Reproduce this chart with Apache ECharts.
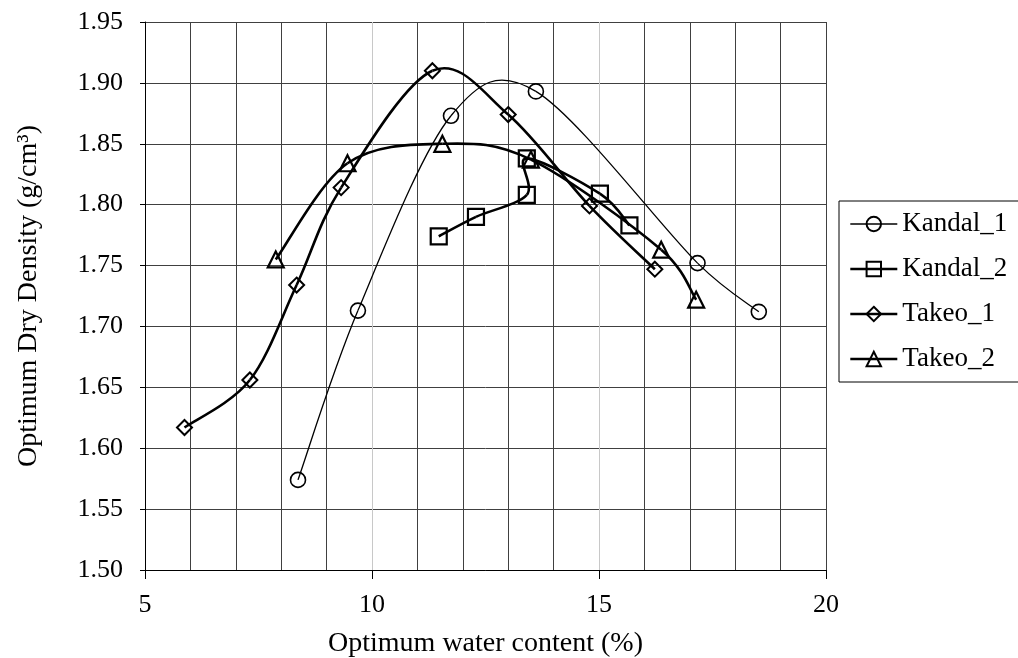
<!DOCTYPE html>
<html>
<head>
<meta charset="utf-8">
<script src="https://cdn.jsdelivr.net/npm/echarts@6/dist/echarts.min.js"></script>
<style>
  html, body { margin: 0; padding: 0; background: #fff; }
  #chart { width: 1018px; height: 658px; }
</style>
</head>
<body>
<div id="chart"></div>
<script>
// Compaction test results: optimum water content (%) vs dry density (g/cm3)
const kandal1X = [8.37, 9.69, 11.74, 13.61, 17.17, 18.52];
const kandal1Y = [1.574, 1.713, 1.873, 1.893, 1.752, 1.712];

const kandal2X = [11.47, 12.29, 13.41, 13.41, 15.02, 15.67];
const kandal2Y = [1.774, 1.790, 1.808, 1.838, 1.809, 1.783];

const takeo1X = [5.87, 7.31, 8.34, 9.32, 11.33, 13.00, 14.79, 16.23];
const takeo1Y = [1.617, 1.656, 1.734, 1.814, 1.910, 1.874, 1.799, 1.747];

const takeo2X = [7.88, 9.46, 11.55, 13.50, 16.37, 17.14];
const takeo2Y = [1.755, 1.834, 1.850, 1.837, 1.763, 1.722];

const xTickValues = [5, 10, 15, 20];
const yTickValues = [1.50, 1.55, 1.60, 1.65, 1.70, 1.75, 1.80, 1.85, 1.90, 1.95];

const FONT = 'Liberation Serif';
const THIN = 1.3;
const THICK = 2.6;

function pairs(xs, ys) {
  return xs.map((x, i) => [x, ys[i]]);
}

// Markers (and legend entry) for one data set; the connecting curve is drawn separately.
function markerSeries(name, xs, ys, symbol, size, lineWidth, borderWidth) {
  return {
    name: name,
    type: 'line',
    data: pairs(xs, ys),
    symbol: symbol,
    symbolSize: size,
    showAllSymbol: true,
    z: 3,
    lineStyle: { color: '#000', width: lineWidth, opacity: 0 },
    itemStyle: { color: 'rgba(255,255,255,0)', borderColor: '#000', borderWidth: borderWidth },
    emphasis: { disabled: true }
  };
}

// Smoothed connecting curve: cubic Bezier segments with Catmull-Rom style
// tangents (one sixth of the neighbour chord), computed in pixel space.
function curveSeries(xs, ys, lineWidth) {
  const n = xs.length;
  return {
    type: 'custom',
    data: pairs(xs, ys),
    silent: true,
    z: 2,
    renderItem: function (params, api) {
      const i = params.dataIndex;
      if (i >= n - 1) return null;
      const pt = k => {
        const j = Math.max(0, Math.min(n - 1, k));
        return api.coord([xs[j], ys[j]]);
      };
      const p0 = pt(i - 1), p1 = pt(i), p2 = pt(i + 1), p3 = pt(i + 2);
      const d12 = Math.hypot(p2[0] - p1[0], p2[1] - p1[1]);
      const d02 = Math.hypot(p2[0] - p0[0], p2[1] - p0[1]);
      const d13 = Math.hypot(p3[0] - p1[0], p3[1] - p1[1]);
      let f1 = 1 / 6, f2 = 1 / 6;
      if (d02 * f1 > d12 / 2 && d02 > 0) f1 = d12 / 2 / d02;
      if (d13 * f2 > d12 / 2 && d13 > 0) f2 = d12 / 2 / d13;
      return {
        type: 'bezierCurve',
        shape: {
          x1: p1[0], y1: p1[1],
          x2: p2[0], y2: p2[1],
          cpx1: p1[0] + (p2[0] - p0[0]) * f1,
          cpy1: p1[1] + (p2[1] - p0[1]) * f1,
          cpx2: p2[0] - (p3[0] - p1[0]) * f2,
          cpy2: p2[1] - (p3[1] - p1[1]) * f2
        },
        style: { fill: 'none', stroke: '#000', lineWidth: lineWidth }
      };
    }
  };
}

const chart = echarts.init(document.getElementById('chart'), null, { renderer: 'canvas' });

chart.setOption({
  animation: false,
  backgroundColor: '#fff',
  textStyle: { fontFamily: FONT, color: '#000' },
  grid: { left: 145, right: 192, top: 22, bottom: 88, containLabel: false, outerBoundsMode: 'none' },
  legend: {
    orient: 'vertical',
    left: 839,
    top: 201,
    padding: [8, 30, 8, 10],
    itemWidth: 47,
    itemHeight: 18,
    itemGap: 15,
    borderColor: '#000',
    borderWidth: 1,
    textStyle: { fontFamily: FONT, fontSize: 27, color: '#000', lineHeight: 30 },
    data: [
      { name: 'Kandal_1', lineStyle: { opacity: 1, width: THIN, color: '#000' } },
      { name: 'Kandal_2', lineStyle: { opacity: 1, width: THICK, color: '#000' } },
      { name: 'Takeo_1', lineStyle: { opacity: 1, width: THICK, color: '#000' } },
      { name: 'Takeo_2', lineStyle: { opacity: 1, width: THICK, color: '#000' } }
    ]
  },
  xAxis: {
    type: 'value',
    min: xTickValues[0],
    max: xTickValues[xTickValues.length - 1],
    interval: 5,
    name: 'Optimum water content (%)',
    nameLocation: 'middle',
    nameGap: 60,
    nameTextStyle: { fontFamily: FONT, fontSize: 28, color: '#000' },
    axisLine: { show: true, onZero: false, lineStyle: { color: '#000', width: 1 } },
    axisTick: { show: true, length: 9, lineStyle: { color: '#000', width: 1 } },
    axisLabel: { fontFamily: FONT, fontSize: 26, color: '#000', margin: 22 },
    splitLine: { show: true, lineStyle: { color: ['#404040', '#c8c8c8', '#c8c8c8', '#404040'], width: 1 } },
    minorTick: { show: false, splitNumber: 5 },
    minorSplitLine: { show: true, lineStyle: { color: '#404040', width: 1 } }
  },
  yAxis: {
    type: 'value',
    min: yTickValues[0],
    max: yTickValues[yTickValues.length - 1],
    interval: 0.05,
    name: 'Optimum Dry Density (g/cm³)',
    nameLocation: 'middle',
    nameGap: 102,
    nameTextStyle: { fontFamily: FONT, fontSize: 28, color: '#000' },
    axisLine: { show: true, lineStyle: { color: '#000', width: 1 } },
    axisTick: { show: true, length: 5, lineStyle: { color: '#000', width: 1 } },
    axisLabel: { fontFamily: FONT, fontSize: 26, color: '#000', margin: 22, formatter: v => v.toFixed(2) },
    splitLine: { show: true, lineStyle: { color: '#404040', width: 1 } }
  },
  series: [
    curveSeries(kandal1X, kandal1Y, THIN),
    curveSeries(kandal2X, kandal2Y, THICK),
    curveSeries(takeo1X, takeo1Y, THICK),
    curveSeries(takeo2X, takeo2Y, THICK),
    markerSeries('Kandal_1', kandal1X, kandal1Y, 'circle', 15, THIN, 1.6),
    markerSeries('Kandal_2', kandal2X, kandal2Y, 'rect', 16, THICK, 2.2),
    markerSeries('Takeo_1', takeo1X, takeo1Y, 'diamond', 15, THICK, 2),
    markerSeries('Takeo_2', takeo2X, takeo2Y, 'triangle', 16, THICK, 2.2)
  ]
});
</script>
</body>
</html>
